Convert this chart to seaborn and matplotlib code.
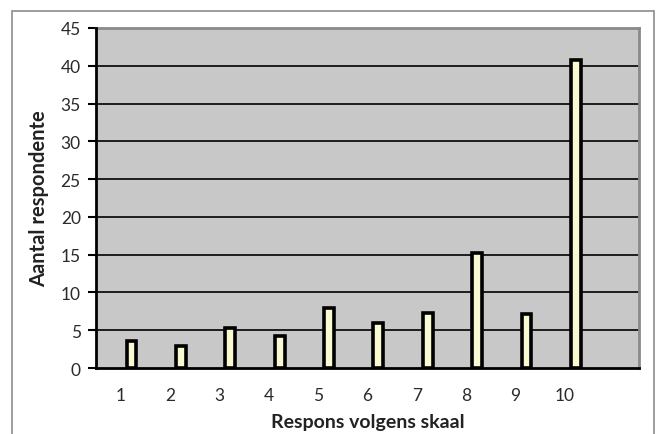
import matplotlib
matplotlib.use("Agg")
import matplotlib.pyplot as plt
from matplotlib.patches import Rectangle
import seaborn as sns
import pandas as pd

categories = ["1", "2", "3", "4", "5", "6", "7", "8", "9", "10"]
values = [3.6, 2.9, 5.3, 4.2, 7.9, 6.0, 7.3, 15.2, 7.1, 40.8]
y_ticks = [0, 5, 10, 15, 20, 25, 30, 35, 40, 45]
x_label = "Respons volgens skaal"
y_label = "Aantal respondente"

sns.set_theme(style="white")
plt.rcParams["font.family"] = ["Lato", "DejaVu Sans"]

df = pd.DataFrame({"respons": categories, "aantal": values, "reeks": "data"})
order = categories + [" "]

W, H = 660, 435
fig = plt.figure(figsize=(W / 100, H / 100), dpi=100)
ax = fig.add_axes([96 / W, 1 - 369 / H, (639 - 96) / W, (369 - 29) / H])

# outer chart frame
fig.patches.append(Rectangle((12 / W, -0.05), (654 - 12) / W, 1.05 - 12 / H,
                             transform=fig.transFigure, fill=False,
                             edgecolor="#8c8c8c", linewidth=1.2))

ax.set_facecolor("#c8c8c8")
sns.barplot(data=df, x="respons", y="aantal", hue="reeks",
            hue_order=["leeg", "data"], order=order, dodge=True,
            width=0.88, gap=0.55, palette={"leeg": "#ffffcc", "data": "#ffffcc"},
            edgecolor="black", linewidth=2.6, legend=False, ax=ax, zorder=3)

ax.set_ylim(0, 45)
ax.set_xlim(-0.5, len(order) - 0.5)
ax.set_yticks(y_ticks)
ax.set_yticklabels([str(t) for t in y_ticks], fontsize=12.5, color="#2a2a2a")
for t in y_ticks[1:-1]:
    ax.axhline(t, color="black", linewidth=1.2, zorder=1)

ax.set_xticks(range(len(order)))
ax.set_xticklabels(order, fontsize=12.5, color="#2a2a2a")
ax.set_xticks([i - 0.5 for i in range(len(order) + 1)], minor=True)
ax.tick_params(axis="x", which="major", length=0, pad=14)
ax.tick_params(axis="x", which="minor", length=6, width=1.5, color="black", direction="out")
ax.tick_params(axis="y", which="major", length=6, width=1.5, color="black", direction="out", pad=5, left=True)

for side in ["left", "bottom"]:
    ax.spines[side].set_color("black")
    ax.spines[side].set_linewidth(2)
    ax.spines[side].set_zorder(4)
for side in ["top", "right"]:
    ax.spines[side].set_color("#8a8a8a")
    ax.spines[side].set_linewidth(2)

ax.set_xlabel(x_label, fontsize=14, fontweight="bold", color="#222222", labelpad=7)
ax.set_ylabel(y_label, fontsize=14.5, fontweight="bold", color="#222222", labelpad=8)

fig.savefig("out.png", dpi=100)
